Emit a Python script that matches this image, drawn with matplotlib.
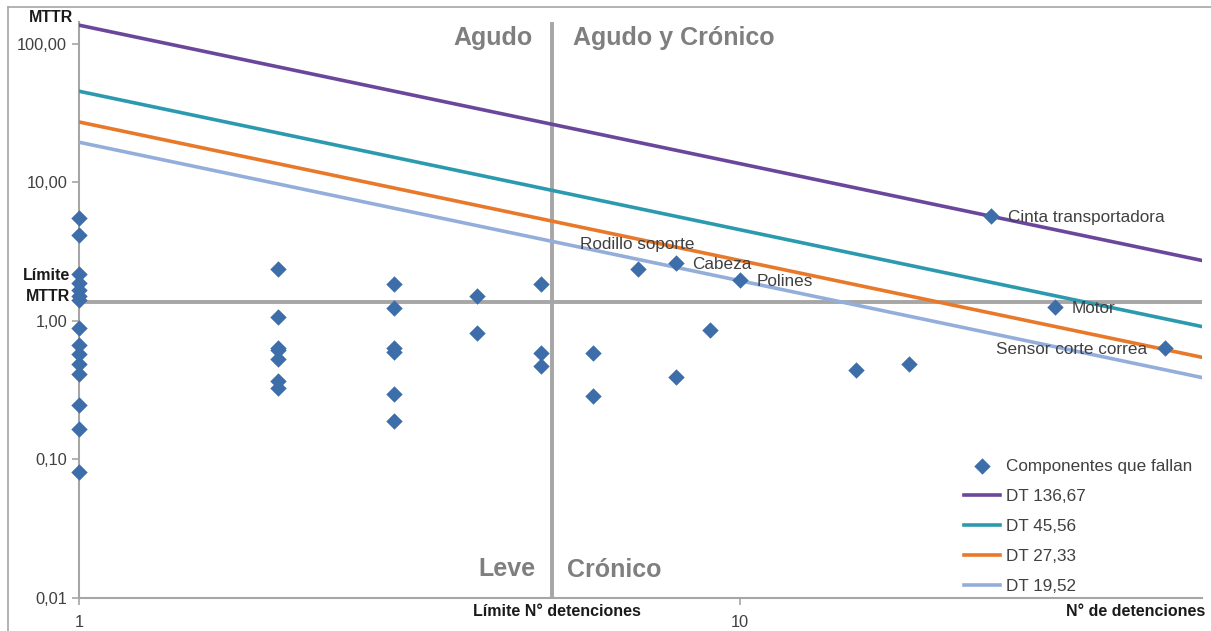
import numpy as np
import matplotlib
matplotlib.use("Agg")
from matplotlib import pyplot as plt
from matplotlib.lines import Line2D

plt.rcParams['font.family'] = ['Liberation Sans', 'DejaVu Sans']

# failing components: number of stops vs MTTR
n_stops = [1]*15 + [2]*7 + [3]*6 + [4]*2 + [5]*3 + [6]*2 + [7, 8, 8, 9, 10, 15, 18, 24, 30, 44]
mttr = [5.56, 4.19, 2.19, 1.88, 1.68, 1.52, 1.42, 0.895, 0.667, 0.574, 0.491, 0.416, 0.246, 0.166, 0.081,
        2.38, 1.07, 0.641, 0.617, 0.534, 0.368, 0.326,
        1.84, 1.25, 0.64, 0.60, 0.298, 0.189,
        1.52, 0.823,
        1.84, 0.59, 0.473,
        0.59, 0.287,
        2.37, 2.61, 0.396, 0.861, 1.97, 0.442, 0.491, 5.74, 1.26, 0.64]

labels = {7: "Rodillo soporte", 8: "Cabeza", 10: "Polines", 24: "Cinta transportadora",
          30: "Motor", 44: "Sensor corte correa"}

dt_values = [136.67, 45.56, 27.33, 19.52]
dt_names = ["DT 136,67", "DT 45,56", "DT 27,33", "DT 19,52"]
dt_colors = ["#6B479C", "#2C9AAE", "#E8782A", "#94AEDB"]

limit_n = 5.2
limit_mttr = 1.38

W, H = 1211, 631
fig = plt.figure(figsize=(W/100, H/100), dpi=100)
ax = fig.add_axes([79/W, 1 - 598/H, (1202-79)/W, (598-22)/H])
ax.set_xscale("log")
ax.set_yscale("log")
ax.set_xlim(1, 50)
ax.set_ylim(0.01, 144)

n_line = np.array([1, 50])
for dt, name, col in zip(dt_values, dt_names, dt_colors):
    ax.plot(n_line, dt / n_line, color=col, lw=2.6, label=name, zorder=3)

ax.axhline(limit_mttr, color="#A6A6A6", lw=2.8, zorder=2)
ax.axvline(limit_n, color="#A6A6A6", lw=2.8, zorder=2)

ax.scatter(n_stops, mttr, marker="D", s=70, color="#3E6EA9", zorder=4,
           label="Componentes que fallan", clip_on=False, linewidths=0)

lab_fs = 12.3
for x, y in zip(n_stops, mttr):
    if x in labels and (x != 8 or y > 1):
        txt = labels[x]
        if x == 7:
            ax.annotate(txt, (x, y), xytext=(0, 12), textcoords="offset points",
                        ha="center", va="bottom", fontsize=lab_fs, color="#404040", zorder=5)
        elif x == 44:
            ax.annotate(txt, (x, y), xytext=(-13, -1), textcoords="offset points",
                        ha="right", va="center", fontsize=lab_fs, color="#404040", zorder=5)
        else:
            ax.annotate(txt, (x, y), xytext=(12, -1), textcoords="offset points",
                        ha="left", va="center", fontsize=lab_fs, color="#404040", zorder=5)

# quadrant names
qstyle = dict(fontsize=18, fontweight="bold", color="#7F7F7F", va="center")
fig.text(453/W, 1 - 38/H, "Agudo", ha="left", **qstyle)
fig.text(573/W, 1 - 38/H, "Agudo y Crónico", ha="left", **qstyle)
fig.text(535/W, 1 - 569/H, "Leve", ha="right", **qstyle)
fig.text(567/W, 1 - 570/H, "Crónico", ha="left", **qstyle)

for s in ["top", "right"]:
    ax.spines[s].set_visible(False)
for s in ["left", "bottom"]:
    ax.spines[s].set_color("#A6A6A6")
    ax.spines[s].set_linewidth(1.5)

ax.set_yticks([0.01, 0.1, 1, 10, 100])
ax.set_yticklabels(["0,01", "0,10", "1,00", "10,00", "100,00"])
ax.set_xticks([1, 10])
ax.set_xticklabels(["1", "10"])
ax.minorticks_off()
ax.tick_params(axis="both", colors="#A6A6A6", labelcolor="#404040", labelsize=11.8, length=5, width=1.2)
ax.tick_params(axis="x", pad=7)

bold = dict(fontsize=11.5, fontweight="bold", color="#1A1A1A", va="center")
fig.text(73/W, 1 - 18/H, "MTTR", ha="right", **bold)
fig.text(70/W, 1 - 275/H, "Límite", ha="right", **bold)
fig.text(70/W, 1 - 297/H, "MTTR", ha="right", **bold)
fig.text(473/W, 1 - 612/H, "Límite N° detenciones", ha="left", **bold)
fig.text(1205/W, 1 - 612/H, "N° de detenciones", ha="right", **bold)

# outer chart border (only top and left are in view)
fig.add_artist(Line2D([8/W, 8/W], [0, 1 - 7/H], color="#A6A6A6", lw=1.2))
fig.add_artist(Line2D([8/W, 1], [1 - 7/H, 1 - 7/H], color="#A6A6A6", lw=1.2))

handles, labs = ax.get_legend_handles_labels()
order = [4, 0, 1, 2, 3]
leg = ax.legend([handles[i] for i in order], [labs[i] for i in order],
                loc="lower right", bbox_to_anchor=(0.995, 0.0), frameon=False,
                fontsize=12.3, handlelength=2.1, labelspacing=0.88, handletextpad=0.35,
                borderaxespad=-0.15)
for t in leg.get_texts():
    t.set_color("#404040")

fig.savefig("out.png", dpi=100)
